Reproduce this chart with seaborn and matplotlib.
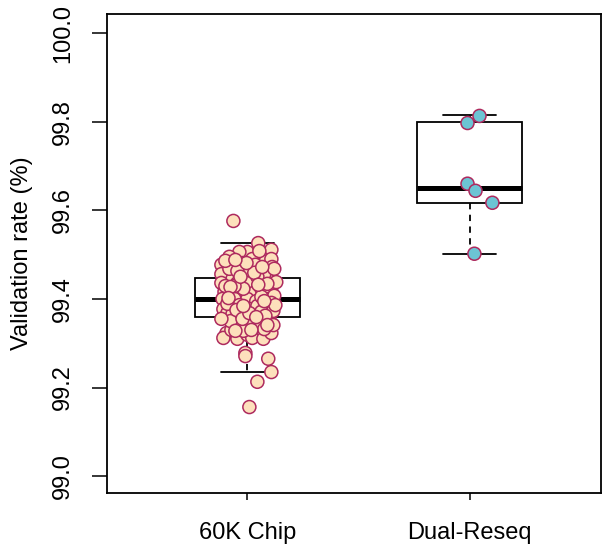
import matplotlib
matplotlib.use("Agg")
import matplotlib.pyplot as plt
import seaborn as sns
import pandas as pd
import numpy as np

# ---- data ----
categories = ["60K Chip", "Dual-Reseq"]

chip_values = [
    99.576, 99.526, 99.511, 99.506, 99.506, 99.495, 99.490, 99.477, 99.472, 99.481,
    99.484, 99.490, 99.472, 99.465, 99.454, 99.456, 99.445, 99.436, 99.436, 99.425,
    99.468, 99.463, 99.456, 99.468, 99.434, 99.436, 99.425, 99.416, 99.409, 99.418,
    99.411, 99.414, 99.423, 99.414, 99.400, 99.400, 99.400, 99.395, 99.400, 99.407,
    99.377, 99.368, 99.366, 99.364, 99.377, 99.384, 99.382, 99.391, 99.357, 99.373,
    99.339, 99.344, 99.344, 99.323, 99.312, 99.310, 99.319, 99.312, 99.310, 99.323,
    99.328, 99.330, 99.278, 99.271, 99.265, 99.235, 99.213, 99.156, 99.386, 99.371,
    99.355, 99.350, 99.332, 99.423, 99.450, 99.405, 99.463, 99.389, 99.386, 99.477,
    99.438, 99.429, 99.434, 99.330, 99.375, 99.362, 99.355, 99.459, 99.429, 99.341,
    99.481, 99.486, 99.508, 99.488, 99.368, 99.355, 99.450, 99.472, 99.427, 99.432,
    99.384, 99.395, 99.402, 99.359, 99.328, 99.341,
]
chip_jitter = [
    -0.063, 0.049, 0.108, 0.000, -0.036, -0.081, 0.022, -0.117, -0.085, -0.018,
    0.081, 0.108, 0.112, -0.009, 0.085, -0.117, -0.067, -0.045, -0.117, 0.108,
    -0.081, -0.013, 0.076, 0.121, 0.013, -0.004, 0.085, -0.103, -0.072, -0.049,
    -0.004, 0.031, 0.063, 0.099, -0.112, -0.058, 0.000, 0.040, 0.099, 0.121,
    -0.108, -0.090, -0.067, -0.027, 0.009, 0.045, 0.090, 0.108, 0.099, 0.117,
    0.036, 0.058, -0.045, -0.094, -0.108, -0.045, 0.000, 0.022, 0.072, 0.108,
    -0.018, -0.072, -0.009, -0.009, 0.094, 0.108, 0.045, 0.009, -0.036, 0.063,
    0.018, -0.076, 0.076, -0.018, 0.045, 0.063, -0.045, -0.090, 0.126, 0.036,
    0.130, -0.099, 0.090, 0.018, -0.049, 0.081, -0.022, 0.031, -0.058, 0.117,
    -0.004, -0.099, 0.054, -0.054, 0.009, -0.117, -0.031, 0.067, -0.076, 0.049,
    -0.018, 0.076, -0.085, 0.040, -0.054, 0.090,
]

reseq_values = [99.813, 99.797, 99.660, 99.644, 99.617, 99.502]
reseq_jitter = [0.045, -0.009, -0.009, 0.027, 0.103, 0.022]

# box statistics (Tukey hinges)
box_whisker_lo = [99.235, 99.501]
box_q1 = [99.360, 99.616]
box_med = [99.400, 99.651]
box_q3 = [99.447, 99.800]
box_whisker_hi = [99.526, 99.814]

yticks = [99.0, 99.2, 99.4, 99.6, 99.8, 100.0]
ylabel = "Validation rate (%)"

# ---- styling ----
sns.set_style("white")
plt.rcParams["font.family"] = ["Liberation Sans", "DejaVu Sans"]
plt.rcParams["text.color"] = "black"
plt.rcParams["axes.labelcolor"] = "black"
plt.rcParams["xtick.color"] = "black"
plt.rcParams["ytick.color"] = "black"

fill_colors = {"60K Chip": "#FDE0BC", "Dual-Reseq": "#6CC4D4"}
edge_color = "#AE2A5E"

fig = plt.figure(figsize=(6.03, 5.46), dpi=100)
ax = fig.add_axes([107 / 603, 1 - 493 / 546, (601 - 107) / 603, (493 - 14) / 546])

# boxes
stats = []
for i, c in enumerate(categories):
    stats.append(dict(med=box_med[i], q1=box_q1[i], q3=box_q3[i],
                      whislo=box_whisker_lo[i], whishi=box_whisker_hi[i],
                      fliers=[], label=c))
ax.bxp(stats, positions=[0, 1], widths=0.47, capwidths=0.24,
       showfliers=False, patch_artist=True,
       boxprops=dict(facecolor="white", edgecolor="black", linewidth=1.3),
       medianprops=dict(color="black", linewidth=3.6, solid_capstyle="butt"),
       whiskerprops=dict(color="black", linewidth=1.3, linestyle=(0, (3.5, 3))),
       capprops=dict(color="black", linewidth=1.3),
       zorder=1)

# points
df = pd.concat([
    pd.DataFrame({"group": categories[0], "value": chip_values,
                  "pos": [0 + j for j in chip_jitter]}),
    pd.DataFrame({"group": categories[1], "value": reseq_values,
                  "pos": [1 + j for j in reseq_jitter]}),
], ignore_index=True)

sns.scatterplot(data=df, x="pos", y="value", hue="group", palette=fill_colors,
                s=88, edgecolor=edge_color, linewidth=1.1, legend=False,
                ax=ax, zorder=3)

ax.set_xlim(-0.632, 1.592)
ax.set_ylim(98.962, 100.043)
ax.set_xticks([0, 1])
ax.set_xticklabels(categories)
ax.set_yticks(yticks)
ax.set_yticklabels([f"{t:.1f}" for t in yticks], rotation=90, va="center")
ax.set_xlabel("")
ax.set_ylabel(ylabel, fontsize=17, labelpad=14, color="black")

ax.tick_params(axis="y", length=10.5, width=1.1, labelsize=17, pad=13, direction="out",
               left=True, colors="black")
ax.tick_params(axis="x", length=5, width=1.1, labelsize=17, pad=16, direction="out",
               bottom=True, colors="black")

for sp in ax.spines.values():
    sp.set_visible(True)
    sp.set_color("black")
    sp.set_linewidth(1.3)

fig.savefig("out.png", dpi=100)
